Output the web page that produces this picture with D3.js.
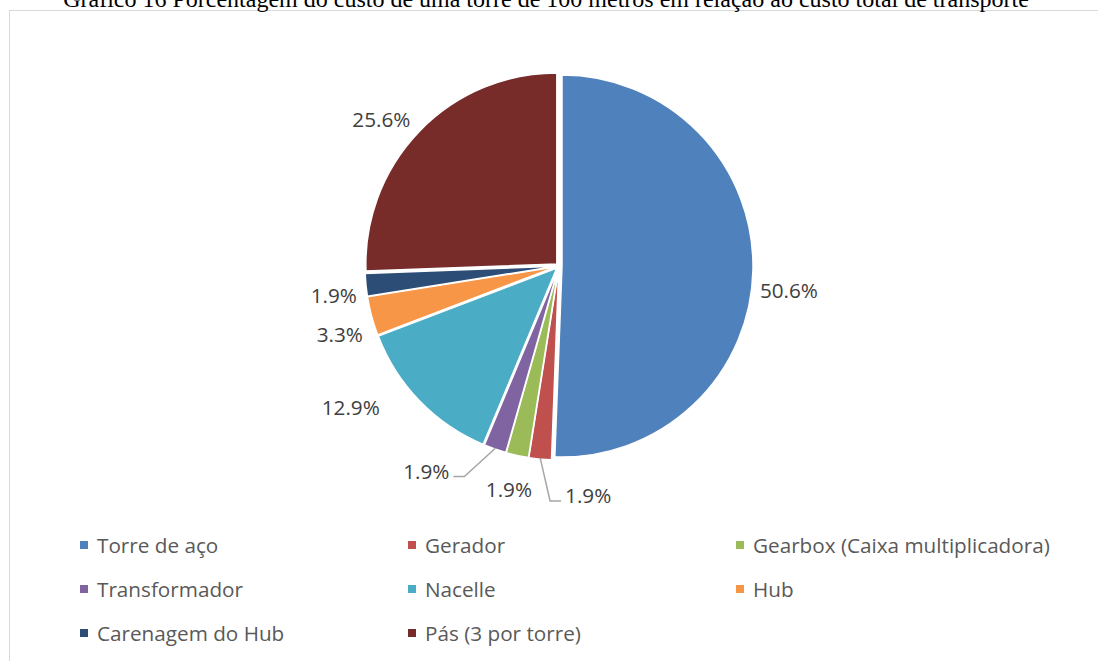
<!DOCTYPE html>
<html>
<head>
<meta charset="utf-8">
<script src="https://cdn.jsdelivr.net/npm/d3@7"></script>
<style>
  html, body { margin: 0; padding: 0; background: #fff; }
  svg { display: block; }
</style>
</head>
<body>
<svg id="chart" width="1098" height="661"></svg>
<script>
// Cost share of each component in the total transport cost of a 100 m tower
const categories = [
  "Torre de aço", "Gerador", "Gearbox (Caixa multiplicadora)", "Transformador",
  "Nacelle", "Hub", "Carenagem do Hub", "Pás (3 por torre)"
];
const shares = [50.6, 1.9, 1.9, 1.9, 12.9, 3.3, 1.9, 25.6];
const colors = ["#4F81BD", "#C0504D", "#9BBB59", "#8064A2", "#4BACC6", "#F79646", "#2C4D75", "#772C2A"];
const titleText = "Gráfico 16 Porcentagem do custo de uma torre de 100 metros em relação ao custo total de transporte";

// label placement tweaks relative to the default outside anchor
const labelLayout = [
  { dx: -4,  dy: 20, anchor: "start",  leader: false },
  { dx: 26,  dy: 25, anchor: "start",  leader: true  },
  { dx: -6,  dy: 23, anchor: "middle", leader: false },
  { dx: -42, dy: 11, anchor: "end",    leader: true  },
  { dx: -32, dy: -2, anchor: "end",    leader: false },
  { dx: 2,   dy: 15, anchor: "end",    leader: false },
  { dx: 2,   dy: 9,  anchor: "end",    leader: false },
  { dx: -1,  dy: -5, anchor: "end",    leader: false }
];

const svg = d3.select("#chart");
const W = 1098, H = 661;

// chart frame
svg.append("rect")
  .attr("x", 9.5).attr("y", 10.5)
  .attr("width", W + 20).attr("height", H + 20)
  .attr("fill", "#fff").attr("stroke", "#d9d9d9").attr("stroke-width", 1);

// title (sits above the frame, partly past the top edge)
svg.append("text")
  .attr("x", 546).attr("y", 7)
  .attr("text-anchor", "middle")
  .attr("font-family", "'Liberation Serif', 'Times New Roman', serif")
  .attr("font-size", 24)
  .attr("fill", "#000")
  .text(titleText);

const cx = 559, cy = 266, r = 191, explode = 3, labelR = 205;

const data = categories.map((c, i) => ({ name: c, value: shares[i], color: colors[i], layout: labelLayout[i] }));
const pie = d3.pie().sort(null).value(d => d.value);
const arcs = pie(data);
const arc = d3.arc().innerRadius(0).outerRadius(r);

const g = svg.append("g").attr("transform", `translate(${cx},${cy})`);

const polar = (a, rad) => [Math.sin(a) * rad, -Math.cos(a) * rad];

g.selectAll("path.slice")
  .data(arcs)
  .join("path")
  .attr("class", "slice")
  .attr("d", arc)
  .attr("fill", d => d.data.color)
  .attr("stroke", "#fff")
  .attr("stroke-width", 1.5)
  .attr("transform", d => {
    const m = (d.startAngle + d.endAngle) / 2;
    const [x, y] = polar(m, explode);
    return `translate(${x},${y})`;
  });

const fmt = v => v.toFixed(1) + "%";

arcs.forEach(d => {
  const m = (d.startAngle + d.endAngle) / 2;
  const L = d.data.layout;
  const [ax, ay] = polar(m, labelR);
  const lx = ax + L.dx, ly = ay + L.dy;
  if (L.leader) {
    const side = L.anchor === "start" ? 1 : -1;
    const [sx, sy] = polar(m, r + 2);
    const yLine = ly + 6;
    g.append("polyline")
      .attr("points", [[sx, sy], [lx - side * 15, yLine], [lx - side * 4, yLine]].map(p => p.join(",")).join(" "))
      .attr("fill", "none")
      .attr("stroke", "#a6a6a6")
      .attr("stroke-width", 1.5);
  }
  g.append("text")
    .attr("x", lx).attr("y", ly)
    .attr("text-anchor", L.anchor)
    .attr("dominant-baseline", "central")
    .attr("font-family", "'Open Sans', sans-serif")
    .attr("font-size", 20.7)
    .attr("fill", "#404040")
    .text(fmt(d.data.value));
});

// legend: three columns
const legend = svg.append("g");
const colX = [80, 408, 736], rowY = [545, 589, 633];
data.forEach((d, i) => {
  const x = colX[i % 3], y = rowY[Math.floor(i / 3)];
  legend.append("rect")
    .attr("x", x).attr("y", y - 4).attr("width", 8).attr("height", 8)
    .attr("fill", d.color);
  legend.append("text")
    .attr("x", x + 17).attr("y", y)
    .attr("dominant-baseline", "central")
    .attr("font-family", "'Open Sans', sans-serif")
    .attr("font-size", 20.7)
    .attr("fill", "#595959")
    .text(d.name);
});
</script>
</body>
</html>
